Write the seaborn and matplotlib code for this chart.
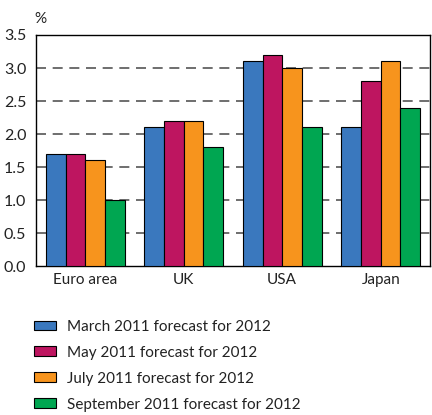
import pandas as pd
import seaborn as sns
import matplotlib.pyplot as plt
import numpy as np

regions = ["Euro area", "UK", "USA", "Japan"]
forecasts = ["March 2011 forecast for 2012", "May 2011 forecast for 2012",
             "July 2011 forecast for 2012", "September 2011 forecast for 2012"]
march = [1.7, 2.1, 3.1, 2.1]
may = [1.7, 2.2, 3.2, 2.8]
july = [1.6, 2.2, 3.0, 3.1]
september = [1.0, 1.8, 2.1, 2.4]
colors = ["#3A78BE", "#BE1560", "#F7941D", "#00A651"]

rows = []
for name, vals in zip(forecasts, [march, may, july, september]):
    for r, v in zip(regions, vals):
        rows.append({"region": r, "forecast": name, "value": v})
df = pd.DataFrame(rows)

sns.set_style("white")
plt.rcParams["font.family"] = ["Lato", "DejaVu Sans"]

fig = plt.figure(figsize=(4.32, 4.15), dpi=100)
ax = fig.add_axes([36 / 432, 1 - 266 / 415, 394 / 432, 231 / 415])

sns.barplot(data=df, x="region", y="value", hue="forecast", palette=colors,
            width=0.8, edgecolor="black", linewidth=0.8, saturation=1,
            ax=ax, legend=True, zorder=3)

ax.set_xlim(-0.5, 3.5)
ax.set_ylim(0, 3.5)
ax.set_yticks(np.arange(0, 3.51, 0.5))
ax.set_yticklabels([f"{t:.1f}" for t in np.arange(0, 3.51, 0.5)], fontsize=11.5, color="#222222")
ax.tick_params(axis="y", length=0, pad=7)
ax.tick_params(axis="x", length=0, pad=5, labelsize=11, labelcolor="#222222")
ax.set_xticks(np.arange(-0.5, 3.6, 1), minor=True)
ax.tick_params(axis="x", which="minor", length=6, width=1, color="black", direction="out")
ax.set_xlabel("")
ax.set_ylabel("")

for y in np.arange(0.5, 3.01, 0.5):
    ax.axhline(y, color="#555555", lw=1.2, ls=(0, (6, 4)), zorder=1)

for s in ax.spines.values():
    s.set_color("black")
    s.set_linewidth(1)

ax.text(-0.003, 1.04, "%", transform=ax.transAxes, fontsize=11, color="#222222",
        ha="left", va="bottom")

handles, labels = ax.get_legend_handles_labels()
ax.get_legend().remove()
fig.legend(handles, labels, loc="upper left", bbox_to_anchor=(20 / 432, 1 - 306 / 415),
           frameon=False, fontsize=11, handlelength=1.45, handleheight=0.6,
           handletextpad=0.75, labelspacing=0.78, labelcolor="#222222")

fig.savefig("out.png", dpi=100)
